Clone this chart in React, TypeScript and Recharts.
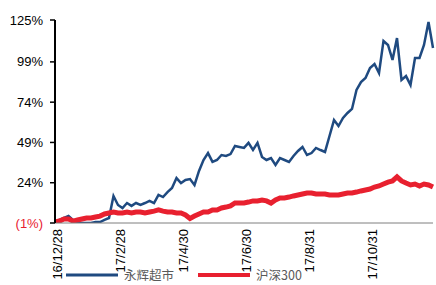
import React from 'react';
import { LineChart, Line, XAxis, YAxis, Legend } from 'recharts';

// tick labels on the x axis and the index of the point they sit on
const xLabels = ['16/12/28', '17/2/28', '17/4/30', '17/6/30', '17/8/31', '17/10/31'];
const xTickIdx = [0, 14, 28, 42, 56, 70];
const yTicks = [-1, 24, 49, 74, 99, 125];

// cumulative return (%), roughly every 3 trading days
const yonghui = [
  -0.4, 0.9, 2.1, 3.3, 0.9, -1, -1, -1, -1, -0.4,
  -0.4, 0.9, 2.1, 15.8, 10.2, 8.3, 11.4, 9.6, 11.4, 10.2,
  11.4, 12.7, 11.4, 16.4, 15.1, 18.2, 20.7, 26.9, 23.8, 25.7,
  26.3, 22.6, 31.3, 38.1, 42.4, 36.9, 38.1, 41.2, 40.6, 41.8,
  46.8, 46.2, 45.6, 48.7, 44.3, 48.7, 40, 38.1, 39.3, 35,
  39.3, 38.1, 36.9, 40.6, 43.7, 46.2, 41.2, 42.4, 45.6, 44.3,
  43.1, 53, 62.9, 59.2, 64.2, 67.3, 69.8, 81.6, 86.5, 89,
  95.2, 97.7, 92.1, 112, 109.5, 100.2, 113.8, 87.8, 90.2, 84.7,
  101.4, 101.4, 109.5, 123.8, 107.6,
];
const hs300 = [
  -0.4, 0.2, 1.5, 1.5, 0.2, 0.9, 1.5, 2.1, 2.1, 2.7,
  3.3, 4.6, 5.2, 5.8, 5.2, 5.2, 5.8, 5.2, 5.8, 5.8,
  5.2, 5.8, 6.4, 7.1, 6.4, 5.8, 5.8, 5.2, 5.2, 4.0,
  1.8, 3.3, 4.6, 5.8, 5.8, 7.1, 7.1, 8.3, 8.9, 9.6,
  11.4, 11.4, 11.4, 12, 12.7, 12.7, 13.3, 12.7, 11.4, 13.3,
  14.5, 14.5, 15.1, 15.8, 16.4, 17, 17.6, 17.6, 17, 17,
  17, 16.4, 16.4, 16.4, 17, 17.6, 17.6, 18.2, 18.9, 19.5,
  20.1, 21.3, 22, 23.2, 24.4, 25.1, 27.6, 25.1, 23.8, 22.6,
  23.2, 22, 23.2, 22.6, 21.3,
];

const BLUE = '#1f4a80';
const RED = '#e8202f';
const FONT = '"Liberation Sans", Arial, sans-serif';

const data = yonghui.map((v, i) => ({ idx: i, yh: v, hs: hs300[i] }));

const YTick = (props: any) => {
  const { x, y, payload } = props;
  const v = payload.value;
  const neg = v < 0;
  return (
    <text x={x} y={y} dy="0.35em" textAnchor="end" fontSize={13} fontFamily={FONT} fill={neg ? RED : '#000'}>
      {neg ? `(${Math.abs(v)}%)` : `${v}%`}
    </text>
  );
};

const XTick = (props: any) => {
  const { x, y, payload } = props;
  const label = xLabels[xTickIdx.indexOf(payload.value)] ?? '';
  return (
    <text x={x} y={y} dy="0.55em" textAnchor="end" fontSize={13} fontFamily={FONT} fill="#000" transform={`rotate(-90, ${x}, ${y})`}>
      {label}
    </text>
  );
};

const LegendBox = () => (
  <div style={{ display: 'flex', alignItems: 'center', height: 14, fontFamily: '"Noto Sans CJK SC", sans-serif', fontSize: 12.5, lineHeight: '14px', color: '#595959', whiteSpace: 'nowrap' }}>
    <svg width={52} height={6}><line x1={0} y1={3} x2={52} y2={3} stroke={BLUE} strokeWidth={3} /></svg>
    <span style={{ marginLeft: 6, width: 74 }}>永辉超市</span>
    <svg width={52} height={6}><line x1={0} y1={3} x2={52} y2={3} stroke={RED} strokeWidth={4} strokeLinecap="round" /></svg>
    <span style={{ marginLeft: 6 }}>沪深300</span>
  </div>
);

export default function App() {
  return (
    <div style={{ position: 'absolute', left: 0, top: 0, width: 436, height: 285, background: '#fff', overflow: 'hidden' }}>
      <LineChart width={436} height={285} data={data} margin={{ top: 20, right: 3, bottom: 0, left: 0 }}>
        <XAxis
          dataKey="idx"
          type="number"
          domain={[0, yonghui.length - 1]}
          ticks={xTickIdx}
          interval={0}
          height={62}
          tickSize={0}
          tickMargin={6}
          tickLine={false}
          axisLine={{ stroke: '#7f7f7f', strokeWidth: 1 }}
          tick={<XTick />}
        />
        <YAxis
          type="number"
          domain={[-1, 125]}
          ticks={yTicks}
          interval={0}
          width={55}
          tickSize={5}
          tickMargin={7}
          axisLine={{ stroke: '#000', strokeWidth: 2 }}
          tickLine={{ stroke: '#000', strokeWidth: 1.5 }}
          tick={<YTick />}
          allowDataOverflow
        />
        <Legend
          layout="horizontal"
          verticalAlign="middle"
          align="center"
          wrapperStyle={{ left: 66, top: 268, width: 260, height: 14 }}
          content={<LegendBox />}
        />
        <Line dataKey="yh" name="永辉超市" stroke={BLUE} strokeWidth={2.5} dot={false} isAnimationActive={false} />
        <Line dataKey="hs" name="沪深300" stroke={RED} strokeWidth={5} dot={false} isAnimationActive={false} />
      </LineChart>
    </div>
  );
}
